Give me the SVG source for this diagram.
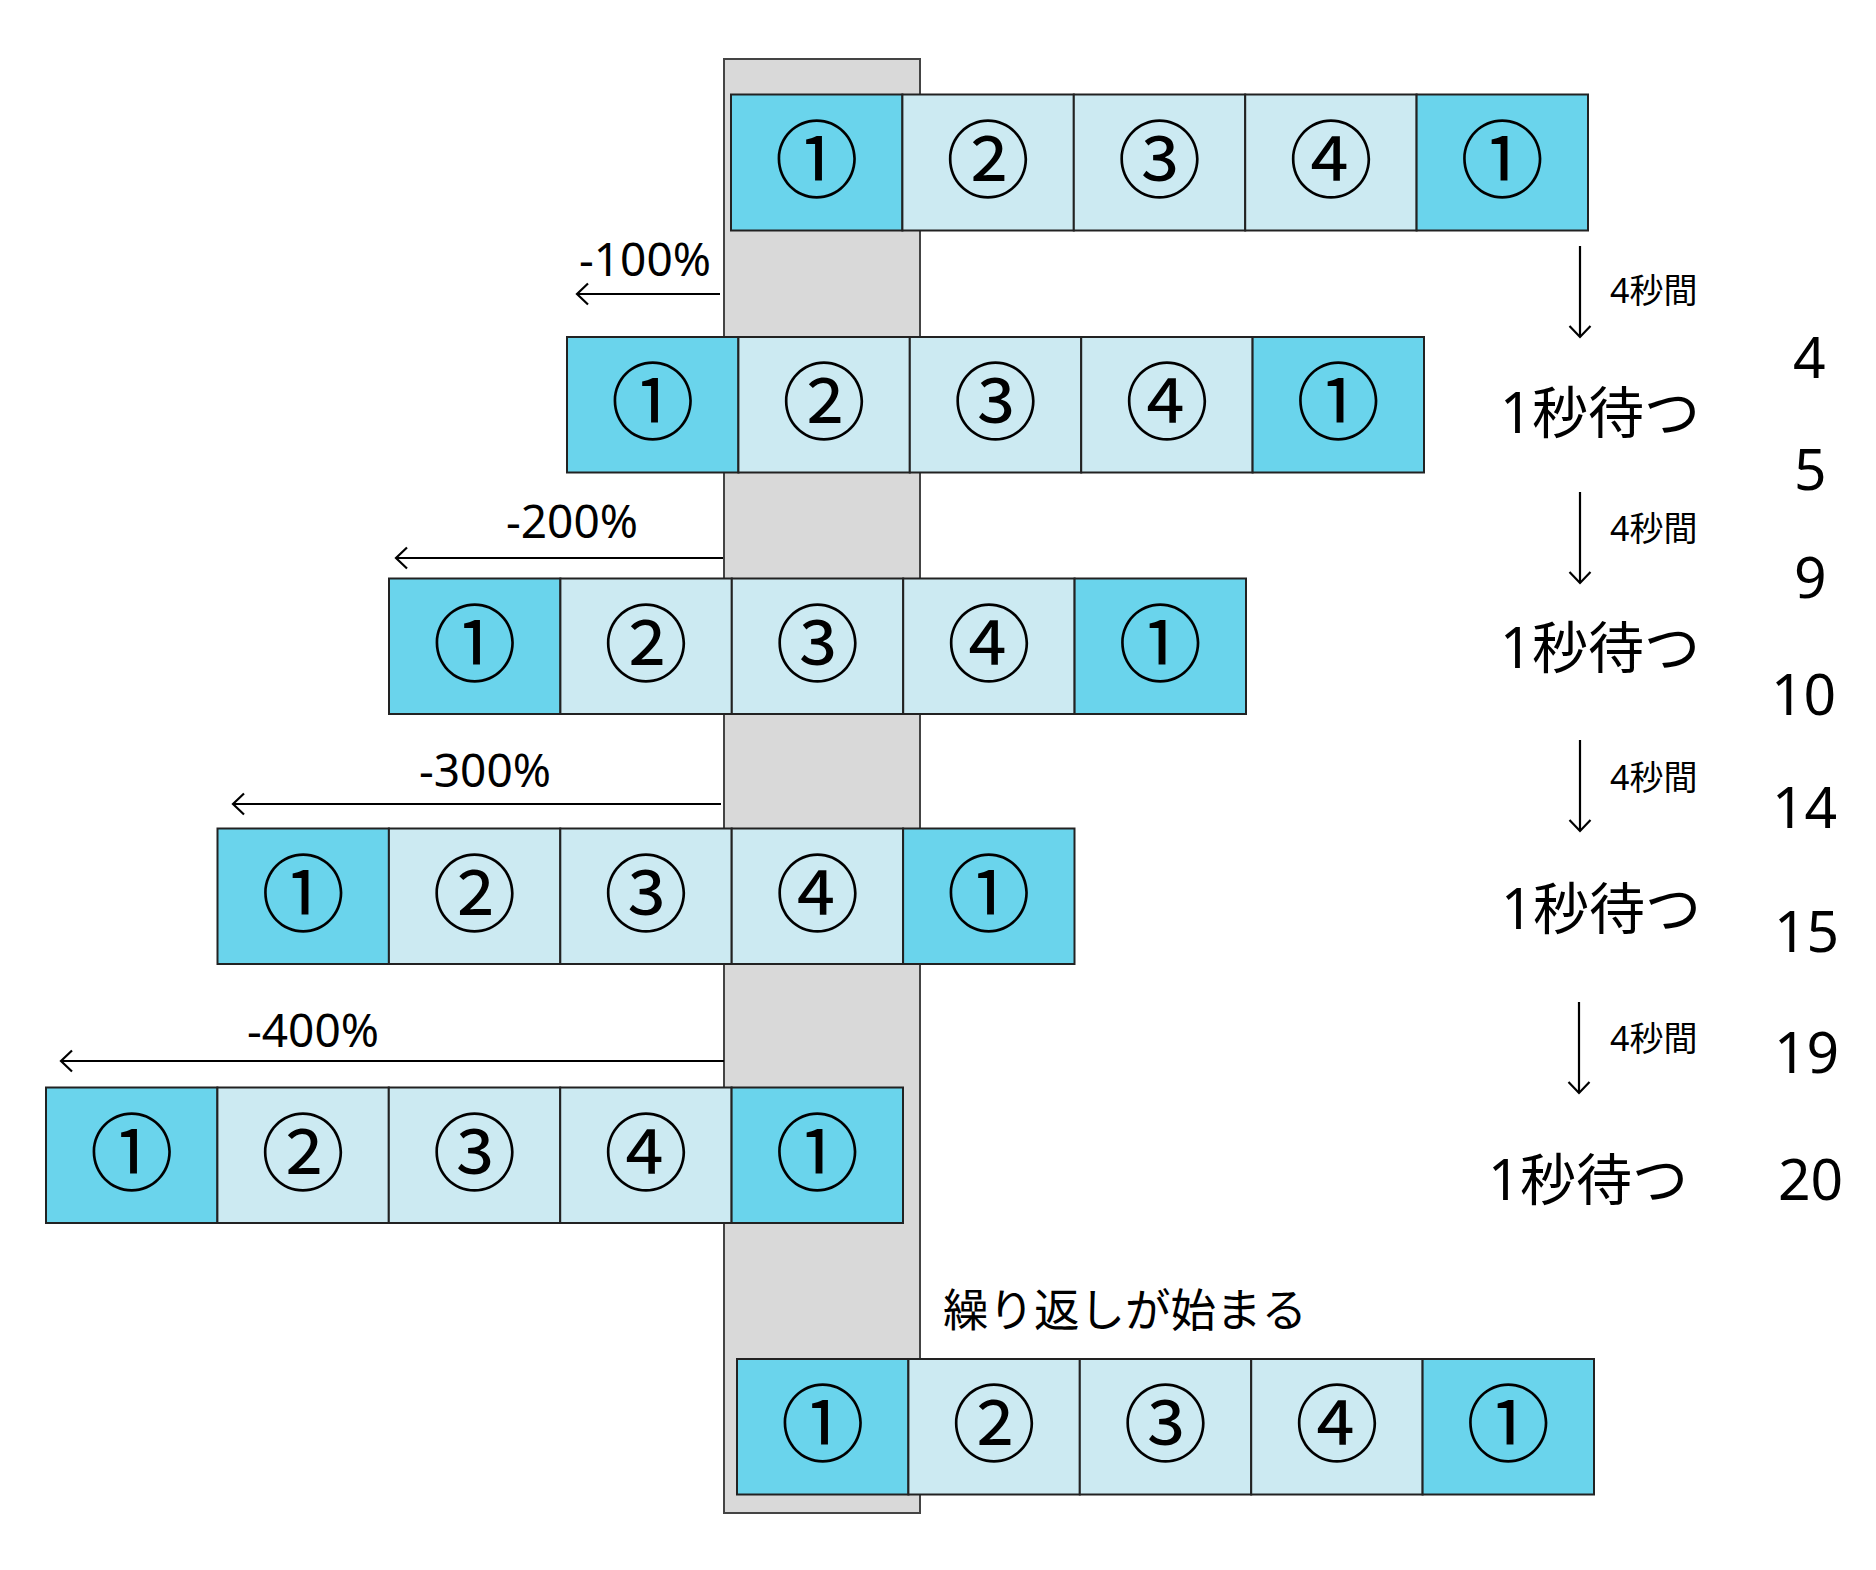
<svg xmlns="http://www.w3.org/2000/svg" width="1876" height="1570" viewBox="0 0 1876 1570">
<style>
.bg{fill:#ffffff}
.col{fill:#d9d9d9;stroke:#444444;stroke-width:2}
.dk{fill:#6ad4ec;stroke:#222222;stroke-width:2}
.lt{fill:#cceaf2;stroke:#222222;stroke-width:2}
.cn{font-family:"Noto Sans CJK JP","Noto Sans",sans-serif;font-size:84px;fill:#000;text-anchor:middle}
.lbl{font-family:"Noto Sans","Noto Sans CJK JP",sans-serif;fill:#000}
.pct{font-size:46px}
.wait{font-size:56px}
.sec{font-size:34px}
.num{font-size:57px}
.rep{font-size:45.5px}
.arr{stroke:#000;stroke-width:2.2;fill:none}
</style>
<defs>
<marker id="ah" viewBox="0 0 14 24" refX="12" refY="12" markerWidth="14" markerHeight="24" markerUnits="userSpaceOnUse" orient="auto">
<path d="M1,1.5 L12,12 L1,22.5" fill="none" stroke="#000" stroke-width="2.2"/>
</marker>
</defs>
<rect class="bg" x="0" y="0" width="1876" height="1570"/>
<g id="viewport">
<rect class="col" x="724" y="59" width="196" height="1454"/>
</g>

<g id="row1" transform="translate(731,94.5)">
<g id="r1b1"><rect class="dk" x="0" y="0" width="171.4" height="136"/><text class="cn" x="85.7" y="96">①</text></g>
<g id="r1b2"><rect class="lt" x="171.4" y="0" width="171.4" height="136"/><text class="cn" x="257.1" y="96">②</text></g>
<g id="r1b3"><rect class="lt" x="342.8" y="0" width="171.4" height="136"/><text class="cn" x="428.5" y="96">③</text></g>
<g id="r1b4"><rect class="lt" x="514.2" y="0" width="171.4" height="136"/><text class="cn" x="599.9" y="96">④</text></g>
<g id="r1b5"><rect class="dk" x="685.6" y="0" width="171.4" height="136"/><text class="cn" x="771.3" y="96">①</text></g>
</g>

<g id="row2" transform="translate(567,337)">
<g id="r2b1"><rect class="dk" x="0" y="0" width="171.4" height="135.5"/><text class="cn" x="85.7" y="96">①</text></g>
<g id="r2b2"><rect class="lt" x="171.4" y="0" width="171.4" height="135.5"/><text class="cn" x="257.1" y="96">②</text></g>
<g id="r2b3"><rect class="lt" x="342.8" y="0" width="171.4" height="135.5"/><text class="cn" x="428.5" y="96">③</text></g>
<g id="r2b4"><rect class="lt" x="514.2" y="0" width="171.4" height="135.5"/><text class="cn" x="599.9" y="96">④</text></g>
<g id="r2b5"><rect class="dk" x="685.6" y="0" width="171.4" height="135.5"/><text class="cn" x="771.3" y="96">①</text></g>
</g>

<g id="row3" transform="translate(389,578.5)">
<g id="r3b1"><rect class="dk" x="0" y="0" width="171.4" height="135.5"/><text class="cn" x="85.7" y="96">①</text></g>
<g id="r3b2"><rect class="lt" x="171.4" y="0" width="171.4" height="135.5"/><text class="cn" x="257.1" y="96">②</text></g>
<g id="r3b3"><rect class="lt" x="342.8" y="0" width="171.4" height="135.5"/><text class="cn" x="428.5" y="96">③</text></g>
<g id="r3b4"><rect class="lt" x="514.2" y="0" width="171.4" height="135.5"/><text class="cn" x="599.9" y="96">④</text></g>
<g id="r3b5"><rect class="dk" x="685.6" y="0" width="171.4" height="135.5"/><text class="cn" x="771.3" y="96">①</text></g>
</g>

<g id="row4" transform="translate(217.5,828.5)">
<g id="r4b1"><rect class="dk" x="0" y="0" width="171.4" height="135.5"/><text class="cn" x="85.7" y="96">①</text></g>
<g id="r4b2"><rect class="lt" x="171.4" y="0" width="171.4" height="135.5"/><text class="cn" x="257.1" y="96">②</text></g>
<g id="r4b3"><rect class="lt" x="342.8" y="0" width="171.4" height="135.5"/><text class="cn" x="428.5" y="96">③</text></g>
<g id="r4b4"><rect class="lt" x="514.2" y="0" width="171.4" height="135.5"/><text class="cn" x="599.9" y="96">④</text></g>
<g id="r4b5"><rect class="dk" x="685.6" y="0" width="171.4" height="135.5"/><text class="cn" x="771.3" y="96">①</text></g>
</g>

<g id="row5" transform="translate(46,1087.5)">
<g id="r5b1"><rect class="dk" x="0" y="0" width="171.4" height="135.5"/><text class="cn" x="85.7" y="96">①</text></g>
<g id="r5b2"><rect class="lt" x="171.4" y="0" width="171.4" height="135.5"/><text class="cn" x="257.1" y="96">②</text></g>
<g id="r5b3"><rect class="lt" x="342.8" y="0" width="171.4" height="135.5"/><text class="cn" x="428.5" y="96">③</text></g>
<g id="r5b4"><rect class="lt" x="514.2" y="0" width="171.4" height="135.5"/><text class="cn" x="599.9" y="96">④</text></g>
<g id="r5b5"><rect class="dk" x="685.6" y="0" width="171.4" height="135.5"/><text class="cn" x="771.3" y="96">①</text></g>
</g>

<g id="row6" transform="translate(737,1359)">
<g id="r6b1"><rect class="dk" x="0" y="0" width="171.4" height="135.5"/><text class="cn" x="85.7" y="96">①</text></g>
<g id="r6b2"><rect class="lt" x="171.4" y="0" width="171.4" height="135.5"/><text class="cn" x="257.1" y="96">②</text></g>
<g id="r6b3"><rect class="lt" x="342.8" y="0" width="171.4" height="135.5"/><text class="cn" x="428.5" y="96">③</text></g>
<g id="r6b4"><rect class="lt" x="514.2" y="0" width="171.4" height="135.5"/><text class="cn" x="599.9" y="96">④</text></g>
<g id="r6b5"><rect class="dk" x="685.6" y="0" width="171.4" height="135.5"/><text class="cn" x="771.3" y="96">①</text></g>
</g>

<g id="connectors">
<line class="arr" x1="720" y1="294" x2="577" y2="294" marker-end="url(#ah)"/>
<line class="arr" x1="723" y1="558" x2="396" y2="558" marker-end="url(#ah)"/>
<line class="arr" x1="721" y1="804" x2="233" y2="804" marker-end="url(#ah)"/>
<line class="arr" x1="724" y1="1061" x2="61" y2="1061" marker-end="url(#ah)"/>
<line class="arr" x1="1580" y1="246" x2="1580" y2="337" marker-end="url(#ah)"/>
<line class="arr" x1="1580" y1="492" x2="1580" y2="583" marker-end="url(#ah)"/>
<line class="arr" x1="1580" y1="740" x2="1580" y2="831" marker-end="url(#ah)"/>
<line class="arr" x1="1579" y1="1002" x2="1579" y2="1093" marker-end="url(#ah)"/>
</g>

<g id="labels">
<text class="lbl pct" x="579" y="276">-100%</text>
<text class="lbl pct" x="506" y="538">-200%</text>
<text class="lbl pct" x="419" y="787">-300%</text>
<text class="lbl pct" x="247" y="1047">-400%</text>
<text class="lbl sec" x="1610" y="303">4秒間</text>
<text class="lbl sec" x="1610" y="541">4秒間</text>
<text class="lbl sec" x="1610" y="790">4秒間</text>
<text class="lbl sec" x="1610" y="1051">4秒間</text>
<text class="lbl wait" x="1500" y="433">1秒待つ</text>
<text class="lbl wait" x="1500" y="668">1秒待つ</text>
<text class="lbl wait" x="1501" y="929">1秒待つ</text>
<text class="lbl wait" x="1488" y="1200">1秒待つ</text>
<text class="lbl num" x="1793" y="378">4</text>
<text class="lbl num" x="1794" y="490">5</text>
<text class="lbl num" x="1794" y="598">9</text>
<text class="lbl num" x="1771" y="715">10</text>
<text class="lbl num" x="1772" y="828">14</text>
<text class="lbl num" x="1774" y="952">15</text>
<text class="lbl num" x="1774" y="1073">19</text>
<text class="lbl num" x="1778" y="1200">20</text>
<text class="lbl rep" x="943" y="1327">繰り返しが始まる</text>
</g>
</svg>
